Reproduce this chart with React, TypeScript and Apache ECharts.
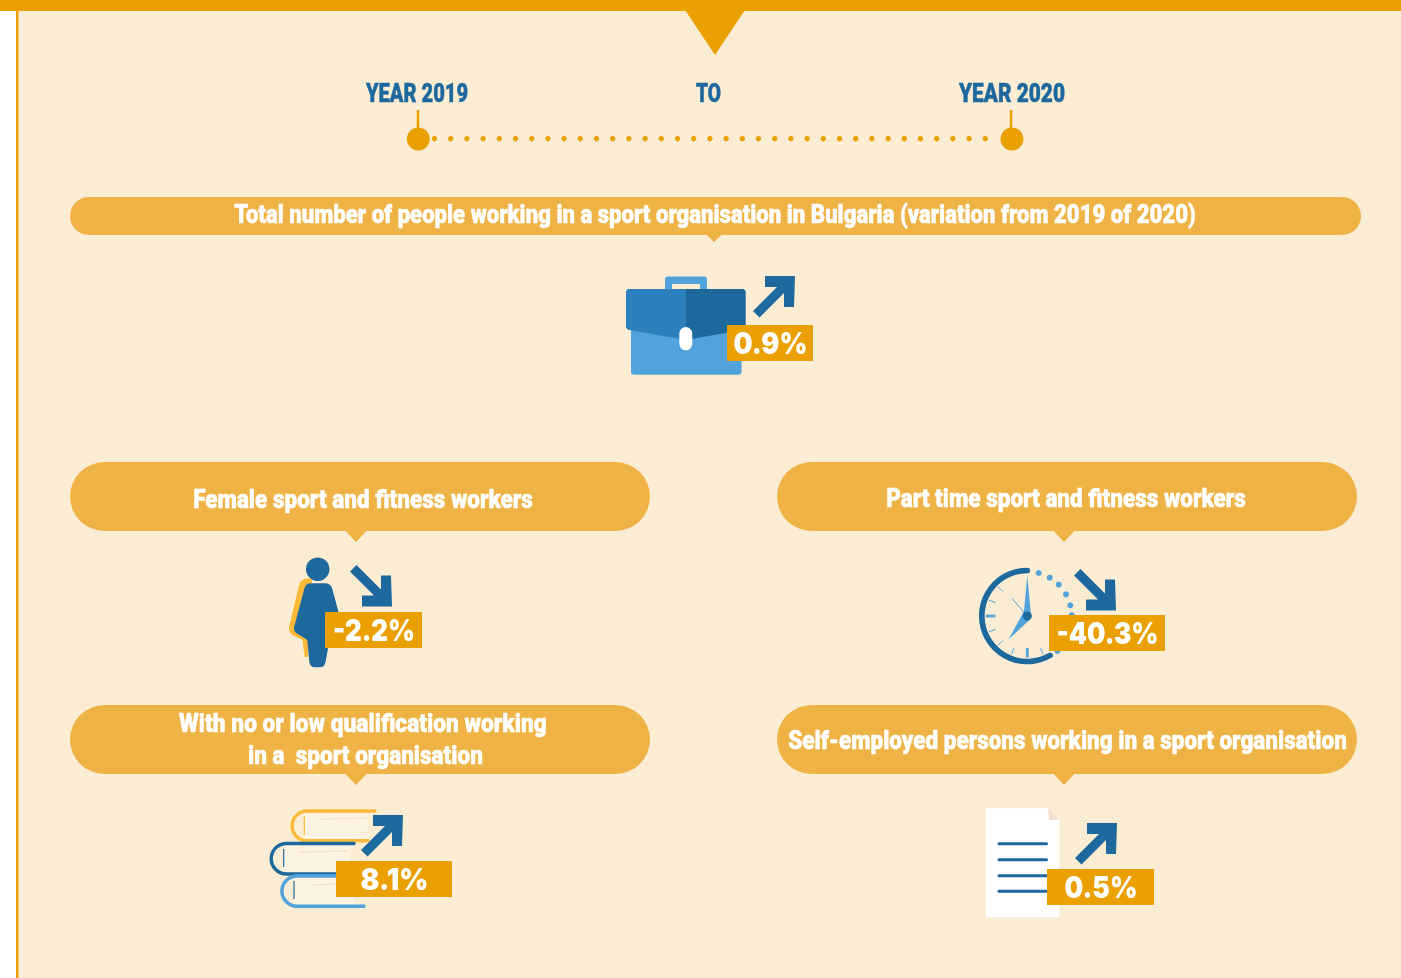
import React, { useEffect, useRef } from "react";
import * as echarts from "echarts";

const yearLabels = ["YEAR 2019", "TO", "YEAR 2020"];
const headline = "Total number of people working in a sport organisation in Bulgaria (variation from 2019 of 2020)";
const panelTitles = [
  ["Female sport and fitness workers"],
  ["Part time sport and fitness workers"],
  ["With no or low qualification working", "in a  sport organisation"],
  ["Self-employed persons working in a sport organisation"],
];
const headlineChange = 0.9;
const panelChanges = [-2.2, -40.3, 8.1, 0.5];

const BG = "#FBEDD4";
const GOLD = "#E9A000";
const PILL = "#EFB345";
const DARK = "#1D689C";
const MID = "#2C80BB";
const LIGHT = "#52A2DC";
const YELLOW = "#FDBA3A";
const TITLE_FONT = "Roboto";
const TAG_FONT = "Inter";

const measureCtx = document.createElement("canvas").getContext("2d")!;
function fitText(text: string, cx: number, cy: number, width: number, font: string, fill: string, weight = 0) {
  measureCtx.font = font;
  const natural = measureCtx.measureText(text).width;
  return {
    type: "text", x: cx, y: cy, scaleX: width / natural, z: 20,
    style: {
      text, font, fill, align: "center", verticalAlign: "middle", textAlign: "center", textVerticalAlign: "middle",
      ...(weight > 0 ? { stroke: fill, lineWidth: weight } : {}),
    },
  };
}

echarts.graphic.registerShape("femaleBody", echarts.graphic.extendPath(
  "M311 583.3 H325 Q330.5 583.3 332 588 L338.5 612 L329 643 L325.5 662 Q324.5 667.3 320 667.3 H315 Q310 667.3 309.3 662 L307.3 640 L297 633.5 Q293.5 631.5 294 627.5 L304.5 588 Q306 583.3 311 583.3 Z", {}));
echarts.graphic.registerShape("femaleEdge", echarts.graphic.extendPath(
  "M312 578.5 H307 Q300.5 579 299 585 L289 627 Q288.5 633 293 635.5 L302.5 640 L304.5 657 H308 L312 600 Z", {}));
echarts.graphic.registerShape("book1", echarts.graphic.extendPath("M375 811 H307 A14.9 14.9 0 0 0 307 840.8 H368", {}));
echarts.graphic.registerShape("book2", echarts.graphic.extendPath("M354 843.4 H286.5 A15.3 15.3 0 0 0 286.5 874 H345", {}));
echarts.graphic.registerShape("book3", echarts.graphic.extendPath("M345 876 H297 A15.1 15.1 0 0 0 297 906.2 H364", {}));

const arrowPts = [[0, 35], [6.5, 41.5], [31, 17], [31, 31], [41, 31], [42, 0], [12, 0], [12, 11], [24, 11]];
function arrow(x: number, y: number, down: boolean) {
  return {
    type: "polygon", x, y: down ? y + 41 : y, scaleY: down ? -1 : 1, z: 10,
    shape: { points: arrowPts }, style: { fill: DARK },
  };
}
function tag(x0: number, x1: number, y0: number, value: number, textWidth: number) {
  const label = `${value}%`;
  return [
    { type: "rect", z: 15, shape: { x: x0, y: y0, width: x1 - x0, height: 36 }, style: { fill: GOLD } },
    fitText(label, (x0 + x1) / 2 + 0.5, y0 + 18, textWidth, `900 30px ${TAG_FONT}`, "#fff"),
  ];
}
function pill(x: number, y: number, w: number, h: number, px: number, pw: number, ph: number) {
  return [
    { type: "rect", shape: { x, y, width: w, height: h, r: h / 2 }, style: { fill: PILL } },
    { type: "polygon", shape: { points: [[px - pw, y + h - 0.5], [px + pw, y + h - 0.5], [px, y + h + ph]] }, style: { fill: PILL } },
  ];
}
function line(x1: number, y1: number, x2: number, y2: number, stroke: string, lineWidth: number, cap = "butt") {
  return { type: "line", shape: { x1, y1, x2, y2 }, style: { stroke, lineWidth, lineCap: cap } };
}

function frame() {
  return [
    { type: "rect", shape: { x: 0, y: 0, width: 1401, height: 978 }, style: { fill: "#fff" } },
    { type: "rect", shape: { x: 18.5, y: 11, width: 1383, height: 967 }, style: { fill: BG } },
    { type: "rect", shape: { x: 16, y: 11, width: 2.5, height: 967 }, style: { fill: GOLD } },
    { type: "rect", shape: { x: 0, y: 0, width: 1401, height: 11 }, style: { fill: GOLD } },
    { type: "polygon", shape: { points: [[685, 10], [745, 10], [715, 55]] }, style: { fill: GOLD } },
  ];
}
function timeline() {
  const font = `900 25px ${TITLE_FONT}`;
  const out: any[] = [
    fitText(yearLabels[0], 417, 93.5, 102, font, DARK, 0.5),
    fitText(yearLabels[1], 708.5, 93.5, 25, font, DARK, 0.5),
    fitText(yearLabels[2], 1012, 93.5, 106, font, DARK, 0.5),
    line(418, 110, 418, 130, GOLD, 2.5),
    line(1011, 110, 1011, 130, GOLD, 2.5),
    { type: "circle", shape: { cx: 418.3, cy: 139, r: 11.5 }, style: { fill: GOLD } },
    { type: "circle", shape: { cx: 1012, cy: 139, r: 11.5 }, style: { fill: GOLD } },
  ];
  for (let x = 434.5; x < 990; x += 16.2) {
    out.push({ type: "circle", shape: { cx: x, cy: 138.7, r: 2.7 }, style: { fill: GOLD } });
  }
  return out;
}
function briefcase() {
  return [
    { type: "rect", shape: { x: 665, y: 276.5, width: 42, height: 20, r: 3 }, style: { fill: LIGHT } },
    { type: "rect", shape: { x: 672, y: 284, width: 28, height: 8 }, style: { fill: BG } },
    { type: "rect", shape: { x: 631, y: 320, width: 110.5, height: 54.7, r: 3 }, style: { fill: LIGHT } },
    { type: "polygon", shape: { points: [[628, 289], [686, 289], [686, 340], [628, 329.7], [626, 327.5], [626, 291]] }, style: { fill: MID } },
    { type: "polygon", shape: { points: [[686, 289], [743.7, 289], [745.7, 291], [745.7, 327.5], [743.7, 329.7], [686, 340]] }, style: { fill: DARK } },
    { type: "rect", shape: { x: 679.3, y: 327, width: 13, height: 23.3, r: 6.5 }, style: { fill: "#fff" } },
  ];
}
function female() {
  return [
    { type: "femaleEdge", style: { fill: YELLOW } },
    { type: "femaleBody", style: { fill: DARK } },
    { type: "circle", shape: { cx: 317.7, cy: 569.2, r: 11.8 }, style: { fill: DARK } },
  ];
}
function clock() {
  const cx = 1027.3, cy = 616;
  const out: any[] = [
    { type: "arc", shape: { cx, cy, r: 45.5, startAngle: (60 * Math.PI) / 180, endAngle: (270 * Math.PI) / 180, clockwise: true }, style: { fill: null, stroke: DARK, lineWidth: 5.7, lineCap: "round" } },
  ];
  for (let k = 0; k <= 7; k++) {
    const deg = 67.5 + 22.5 * k;
    const a = (deg * Math.PI) / 180;
    const major = deg === 90 || deg === 180;
    const r0 = major ? 32 : 34.5;
    out.push(line(cx + r0 * Math.cos(a), cy + r0 * Math.sin(a), cx + 41.5 * Math.cos(a), cy + 41.5 * Math.sin(a), LIGHT, major ? 2.8 : 1));
  }
  out.push(
    line(cx, cy, 1012, 598.5, LIGHT, 1),
    { type: "polygon", shape: { points: [[1027.3, 575.5], [1030.8, 613], [1023.8, 613]] }, style: { fill: LIGHT } },
    { type: "polygon", shape: { points: [[1008.5, 639.5], [1023.5, 612], [1030, 619.5]] }, style: { fill: LIGHT } },
    { type: "circle", shape: { cx, cy, r: 4.5 }, style: { fill: DARK } },
  );
  const dots = [[1038.7, 573], [1049.7, 577.7], [1058.7, 584.7], [1066, 594.3], [1070.3, 605.3], [1071.7, 615], [1057.3, 651]];
  dots.forEach(([x, y]) => out.push({ type: "circle", shape: { cx: x, cy: y, r: 3 }, style: { fill: LIGHT } }));
  return out;
}
function books() {
  const inner = "#FDF3E3", faint = "#F3E3CD";
  const stroke = (c: string) => ({ fill: null, stroke: c, lineWidth: 3.5, lineCap: "round" });
  return [
    { type: "rect", shape: { x: 305, y: 814, width: 63, height: 25 }, style: { fill: inner } },
    { type: "rect", shape: { x: 284, y: 846, width: 66, height: 26 }, style: { fill: inner } },
    { type: "rect", shape: { x: 295, y: 878, width: 60, height: 27 }, style: { fill: inner } },
    line(320, 819, 368, 818, faint, 1.5),
    line(360, 833, 368, 832, faint, 1.5),
    line(300, 852, 348, 851, faint, 1.5),
    line(312, 885, 340, 884, faint, 1.5),
    { type: "book1", style: stroke(YELLOW) },
    { type: "book2", style: stroke(DARK) },
    { type: "book3", style: stroke(LIGHT) },
    line(304.3, 816.5, 304.3, 835, YELLOW, 1.2),
    line(283.7, 849, 283.7, 867, DARK, 1.2),
    line(294, 881, 294, 899, DARK, 1.2),
  ];
}
function documentIcon() {
  const out: any[] = [
    { type: "polygon", shape: { points: [[986, 808.3], [1048.3, 808.3], [1059.3, 819.3], [1059.3, 917.3], [986, 917.3]] }, style: { fill: "#fff" } },
    { type: "polygon", shape: { points: [[1048.3, 808.3], [1059.3, 819.3], [1049, 820.5]] }, style: { fill: "#F3E0CC" } },
  ];
  [843.7, 859.7, 875.7, 891.3].forEach((y) => out.push(line(999, y, 1046.5, y, DARK, 3, "round")));
  return out;
}

export default function App() {
  const ref = useRef<HTMLDivElement>(null);
  useEffect(() => {
    const chart = echarts.init(ref.current!, null, { renderer: "svg" });
    const titleFont = `900 25px ${TITLE_FONT}`;
    const W = 0.5;
    const elements: any[] = [
      ...frame(),
      ...timeline(),
      ...pill(70, 197, 1291, 38, 714, 8, 7),
      fitText(headline, 715, 215, 962, titleFont, "#fff", W),
      ...briefcase(),
      arrow(753, 276, false),
      ...tag(727, 813, 325, headlineChange, 74),

      ...pill(70, 462, 580, 69, 356, 11, 11),
      fitText(panelTitles[0][0], 363, 499.5, 340, titleFont, "#fff", W),
      ...female(),
      arrow(350, 565.5, true),
      ...tag(325, 422, 612, panelChanges[0], 82),

      ...pill(777, 462, 580, 69, 1064, 11, 11),
      fitText(panelTitles[1][0], 1066, 498.5, 360, titleFont, "#fff", W),
      ...clock(),
      arrow(1074, 569.5, true),
      ...tag(1049, 1165, 615, panelChanges[1], 102),

      ...pill(70, 705, 580, 69, 356, 11, 11),
      fitText(panelTitles[2][0], 363, 723.5, 368, titleFont, "#fff", W),
      fitText(panelTitles[2][1], 365.5, 755.5, 235, titleFont, "#fff", W),
      ...books(),
      arrow(361, 815, false),
      ...tag(336, 452, 861, panelChanges[2], 68),

      ...pill(777, 705, 580, 69, 1064, 11, 11),
      fitText(panelTitles[3][0], 1067.5, 740.5, 559, titleFont, "#fff", W),
      ...documentIcon(),
      arrow(1075, 823, false),
      ...tag(1047, 1154, 869, panelChanges[3], 73),
    ];
    chart.setOption({
      animation: false,
      graphic: { elements: elements.map((e) => ({ ...e, silent: true })) },
    });
    return () => chart.dispose();
  }, []);
  return <div ref={ref} style={{ position: "fixed", left: 0, top: 0, width: 1401, height: 978 }} />;
}
